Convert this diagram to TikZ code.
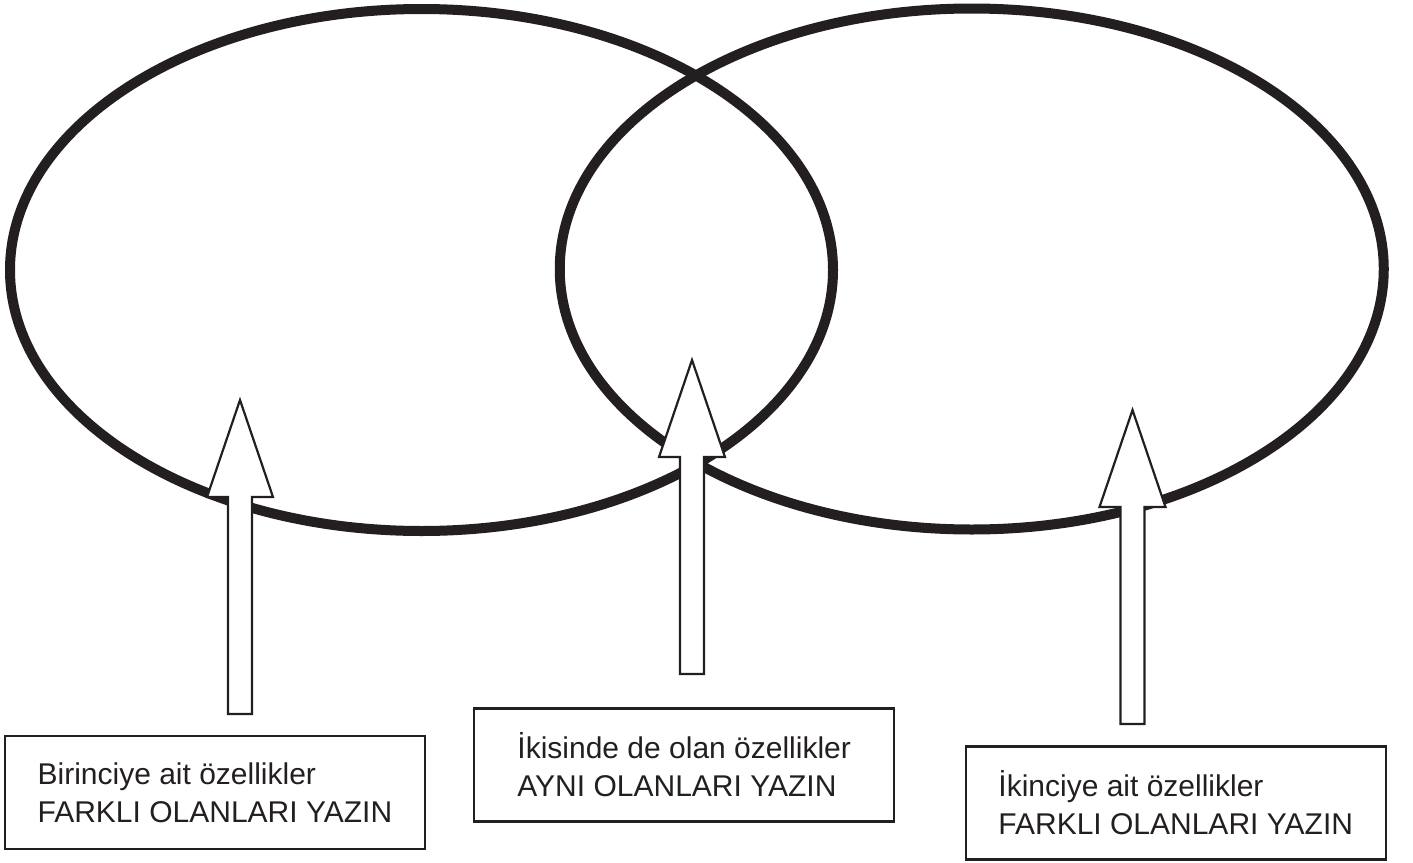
\documentclass[tikz,border=0pt]{standalone}
\usepackage{fontspec}
\setmainfont{Liberation Sans}
\definecolor{inkt}{RGB}{35,31,32}

\begin{document}
\begin{tikzpicture}[x=0.5pt, y=-0.5pt,
    ring/.style={draw=inkt, line width=5pt},
    blokpijl/.style={draw=inkt, fill=white, line width=1.1pt, line join=miter},
    kader/.style={draw=inkt, line width=1.2pt, minimum width=210pt, minimum height=56.5pt,
        align=left, text=inkt, font=\fontsize{15pt}{19pt}\selectfont}]
    \useasboundingbox (0,0) rectangle (1413,862);

    % Ellipsen tekenen
    \draw[ring] (421.5,270) ellipse [x radius=411.5, y radius=261];
    \draw[ring] (971.75,269) ellipse [x radius=412, y radius=260.5];

    % Punten van de pijlen
    \coordinate (puntBirinci) at (240,400);
    \coordinate (puntOrtak) at (692,360);
    \coordinate (puntIkinci) at (1132.5,410);

    % Blokpijlen (wit gevuld, over de ellipsen heen)
    \draw[blokpijl] (puntBirinci) -- ++(33,97) -- ++(-21,0) -- ++(0,217) -- ++(-24,0) -- ++(0,-217) -- ++(-21,0) -- cycle;
    \draw[blokpijl] (puntOrtak) -- ++(33,97) -- ++(-21,0) -- ++(0,217) -- ++(-24,0) -- ++(0,-217) -- ++(-21,0) -- cycle;
    \draw[blokpijl] (puntIkinci) -- ++(33,97) -- ++(-21,0) -- ++(0,217) -- ++(-24,0) -- ++(0,-217) -- ++(-21,0) -- cycle;

    % Tekstvakken
    \node[kader] (birinci) at (214.9,792.5) {Birinciye ait özellikler\\FARKLI OLANLARI YAZIN};
    \node[kader] (ortak) at (684.2,765) {İkisinde de olan özellikler\\AYNI OLANLARI YAZIN};
    \node[kader] (ikinci) at (1175.7,802.85) {İkinciye ait özellikler\\FARKLI OLANLARI YAZIN};
\end{tikzpicture}
\end{document}
